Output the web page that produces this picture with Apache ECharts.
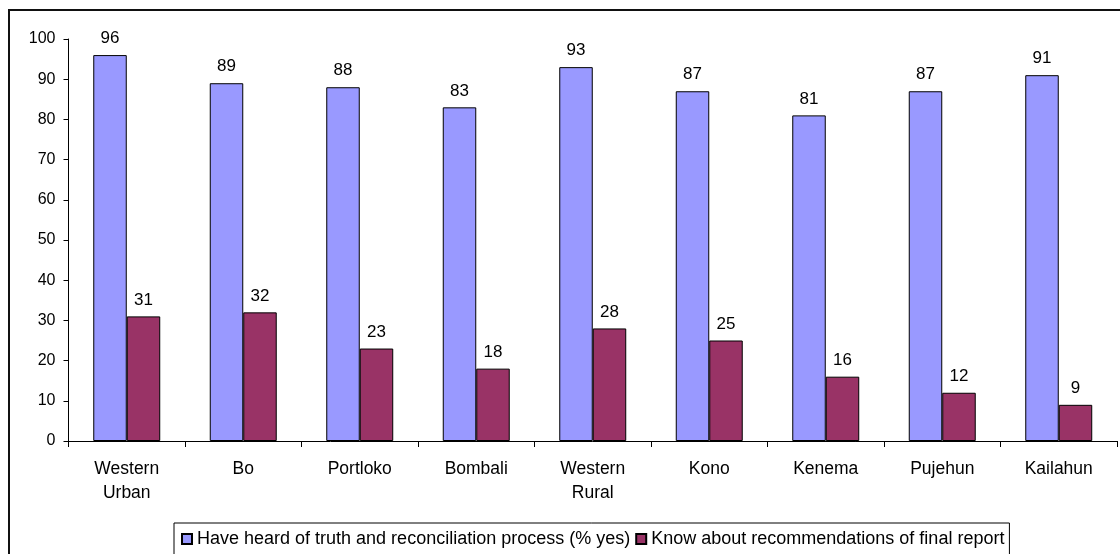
<!DOCTYPE html>
<html>
<head>
<meta charset="utf-8">
<script src="https://cdn.jsdelivr.net/npm/echarts@6/dist/echarts.min.js"></script>
<style>
html,body{margin:0;padding:0;background:#fff;}
#chart{width:1120px;height:554px;}
</style>
</head>
<body>
<div id="chart"></div>
<script>
const categories = ['Western\nUrban', 'Bo', 'Portloko', 'Bombali', 'Western\nRural', 'Kono', 'Kenema', 'Pujehun', 'Kailahun'];
const seriesNames = ['Have heard of truth and reconciliation process (% yes)', 'Know about recommendations of final report'];
const heardValues = [96, 89, 88, 83, 93, 87, 81, 87, 91];
const knowValues = [31, 32, 23, 18, 28, 25, 16, 12, 9];

const chart = echarts.init(document.getElementById('chart'), null, {renderer: 'canvas'});
const FONT = 'Liberation Sans, Arial, sans-serif';
const labelStyle = {show: true, position: 'top', distance: 8, color: '#000', fontSize: 17, fontFamily: FONT};
chart.setOption({
  animation: false,
  backgroundColor: '#fff',
  textStyle: {fontFamily: FONT},
  graphic: [{
    type: 'rect', silent: true, z: 100,
    shape: {x: 9, y: 10, width: 1200, height: 700},
    style: {fill: 'none', stroke: '#111', lineWidth: 2}
  }],
  grid: {left: 68.5, top: 39, right: 3, bottom: 113, containLabel: false},
  legend: {
    left: 174, top: 523,
    orient: 'horizontal',
    borderColor: '#000', borderWidth: 1,
    padding: [7, 5, 12, 7],
    itemWidth: 10, itemHeight: 10, itemGap: 5,
    icon: 'rect',
    textStyle: {fontSize: 18, color: '#000', fontFamily: FONT},
    data: seriesNames
  },
  xAxis: {
    type: 'category',
    data: categories,
    axisLine: {show: true, lineStyle: {color: '#000', width: 1}},
    axisTick: {show: true, length: 6, lineStyle: {color: '#000'}},
    axisLabel: {interval: 0, fontSize: 17.5, color: '#000', lineHeight: 24, margin: 16, fontFamily: FONT},
    splitLine: {show: false}
  },
  yAxis: {
    type: 'value', min: 0, max: 100, interval: 10,
    axisLine: {show: true, lineStyle: {color: '#000', width: 1}},
    axisTick: {show: true, length: 5, lineStyle: {color: '#000'}},
    axisLabel: {fontSize: 16, color: '#000', margin: 13, fontFamily: FONT},
    splitLine: {show: false}
  },
  series: [
    {
      name: seriesNames[0], type: 'bar', data: heardValues,
      barGap: '0%', barCategoryGap: '42.5%',
      itemStyle: {color: '#9999FF', borderColor: '#000', borderWidth: 1},
      label: labelStyle
    },
    {
      name: seriesNames[1], type: 'bar', data: knowValues,
      barGap: '0%', barCategoryGap: '42.5%',
      itemStyle: {color: '#993366', borderColor: '#000', borderWidth: 1},
      label: labelStyle
    }
  ]
});
</script>
</body>
</html>
